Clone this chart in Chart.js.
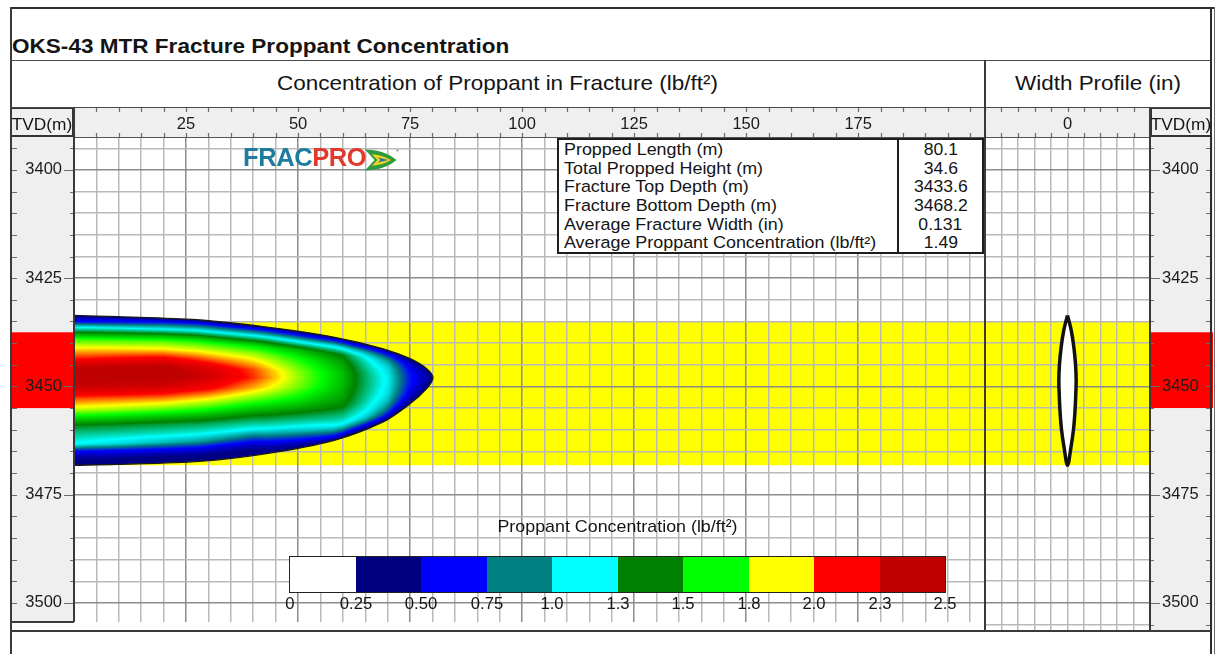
<!DOCTYPE html>
<html lang="en">
<head>
<meta charset="utf-8">
<title>OKS-43 MTR Fracture Proppant Concentration</title>
<script src="https://cdn.jsdelivr.net/npm/chart.js@4/dist/chart.umd.min.js"></script>
<style>
  html, body { margin: 0; padding: 0; background: #fff; }
  body { position: relative; width: 1223px; height: 654px; overflow: hidden;
         font-family: "Liberation Sans", Arial, Helvetica, sans-serif; color: #141414; }
  canvas { position: absolute; }
  .rule { position: absolute; background: #3a3a3a; }
  .txt { position: absolute; white-space: nowrap; line-height: 1; }
  #title { left: 12px; top: 35.6px; font-size: 20.5px; font-weight: bold;
           transform: scaleX(1.1); transform-origin: 0 0; }
  .hdr { top: 72.2px; font-size: 21px; text-align: center;
         transform: scaleX(1.07); transform-origin: 50% 0; }
  .tvd { position: absolute; top: 107px; height: 30px; box-sizing: border-box;
         border: 2px solid #333; background: #f0f0f0; font-size: 16px; line-height: 31px;
         text-align: center; white-space: nowrap; }
  .tvd span { display: inline-block; transform: scaleX(1.08); }
  #logo { left: 243px; top: 145.4px; font-size: 25.5px; font-weight: bold; letter-spacing: -0.4px; }
  #logo .a { color: #1f7c9c; } #logo .b { color: #e0392e; }
  #stats { position: absolute; left: 557px; top: 138px; width: 427px; height: 116px;
           box-sizing: border-box; border: 2px solid #1e1e1e; background: #fff; display: flex; }
  #statLab { width: 340px; box-sizing: border-box; border-right: 2px solid #1e1e1e; padding-left: 5px; }
  #statVal { flex: 1; text-align: center; }
  #stats .row { height: 18.7px; line-height: 18.7px; font-size: 16.3px; white-space: nowrap; }
  #statLab .row span { display: inline-block; transform: scaleX(1.1); transform-origin: 0 50%; }
  #statVal .row span { display: inline-block; transform: scaleX(1.08); transform-origin: 50% 50%; }
  #cbarTitle { left: 290px; width: 655px; top: 517.6px; font-size: 17px; text-align: center;
               transform: scaleX(1.05); transform-origin: 50% 0; }
  #cbar { position: absolute; left: 290px; top: 557px; width: 655px; height: 35px;
          outline: 1.5px solid #222; display: flex; }
  #cbar div { flex: 1; height: 100%; }
  .cbl { top: 595.5px; font-size: 16px; }
</style>
</head>
<body>
<canvas id="mainChart" width="975" height="515" style="left:10px;top:107px"></canvas>
<canvas id="widthChart" width="228" height="524" style="left:985px;top:107px"></canvas>

<div id="title" class="txt">OKS-43 MTR Fracture Proppant Concentration</div>
<div class="txt hdr" style="left:10px;width:975px">Concentration of Proppant in Fracture (lb/ft²)</div>
<div class="txt hdr" style="left:985px;width:226px">Width Profile (in)</div>
<div class="tvd" style="left:10px;width:64px"><span>TVD(m)</span></div>
<div class="tvd" style="left:1150px;width:62px"><span>TVD(m)</span></div>

<div id="logo" class="txt"><span class="a">FRAC</span><span class="b">PRO</span></div>
<svg style="position:absolute;left:365px;top:148px" width="34" height="24" viewBox="0 0 34 24">
  <path d="M0 1.5 C12 1.5 24 5.5 31.5 12 C24 18.5 12 22.5 0 22.5 L9.5 12 Z" fill="#2f9b3e"/>
  <path d="M7 6.5 C14 6.5 21 9 26 12 C21 15 14 17.5 7 17.5 L12.5 12 Z" fill="#f2d21c"/>
  <path d="M13 9.6 L23 12 L13 14.4 L15.5 12 Z" fill="#1f6fb4"/>
  <circle cx="32.5" cy="2.5" r="1.1" fill="#888"/>
</svg>

<div id="stats"><div id="statLab"></div><div id="statVal"></div></div>

<div id="cbarTitle" class="txt">Proppant Concentration (lb/ft²)</div>
<div id="cbar"></div>
<div id="cbarLabels"></div>

<div class="rule" style="left:10px;top:6.5px;width:1205px;height:2px;background:#2e2e2e"></div>
<div class="rule" style="left:9.5px;top:6.5px;width:2px;height:648px"></div>
<div class="rule" style="left:1210px;top:6.5px;width:2px;height:648px;background:#2e2e2e"></div>
<div class="rule" style="left:1213.5px;top:6.5px;width:1.5px;height:648px;background:#6a6a6a"></div>
<div class="rule" style="left:10px;top:59.5px;width:1201px;height:1.5px;background:#4a4a4a"></div>
<div class="rule" style="left:10px;top:106.5px;width:1201px;height:1.5px;background:#4a4a4a"></div>
<div class="rule" style="left:74px;top:136.5px;width:1076px;height:1px;background:#555"></div>
<div class="rule" style="left:984.2px;top:60px;width:1.6px;height:571px"></div>
<div class="rule" style="left:73.2px;top:107px;width:1.6px;height:515px"></div>
<div class="rule" style="left:1149.2px;top:107px;width:1.6px;height:524px"></div>
<div class="rule" style="left:10px;top:621px;width:64px;height:1.5px"></div>
<div class="rule" style="left:10px;top:630px;width:1201px;height:1.6px"></div>

<script>
// ---- axis tick labels ----
const xTickLabels = [25, 50, 75, 100, 125, 150, 175];
const depthTickLabels = [3400, 3425, 3450, 3475, 3500];
const widthTickLabels = [0];

// ---- fracture summary ----
const statLabels = ['Propped Length (m)', 'Total Propped Height (m)', 'Fracture Top Depth (m)',
                    'Fracture Bottom Depth (m)', 'Average Fracture Width (in)',
                    'Average Proppant Concentration (lb/ft²)'];
const statValues = [80.1, 34.6, 3433.6, 3468.2, 0.131, 1.49];
const proppedLength = statValues[0];
const fracTop = statValues[2];
const fracBottom = statValues[3];

// ---- zones (TVD, m) ----
const payZone = [3435.0, 3468.2];       // yellow layer
const perfInterval = [3437.5, 3455.0];  // red interval on the depth tracks

// ---- propped fracture outline (length m, TVD m): upper edge out to the tip, lower edge back ----
const outlineX = [0, 10, 27.4, 43.0, 57.9, 69.0, 75.0, 78.7, proppedLength,
                  78.7, 75.0, 69.0, 57.9, 43.0, 28.0, 9.5, 0];
const outlineDepth = [fracTop, 3433.9, 3434.6, 3436.3, 3438.6, 3441.3, 3443.6, 3445.9, 3448.0,
                      3450.5, 3454.0, 3458.2, 3462.5, 3465.5, 3467.3, 3468.0, fracBottom];

// ---- proppant concentration (lb/ft²) ----
// one column per length station; each value sits at a fraction of the local propped
// height (0 = upper edge of the fracture, 1 = lower edge)
const columnX = [0, 10, 20, 30, 40, 50, 60, 65, 70, 75, 80];
const heightFraction = [0, 0.04, 0.08, 0.12, 0.16, 0.22, 0.28, 0.34, 0.40, 0.48,
                        0.56, 0.62, 0.68, 0.74, 0.80, 0.86, 0.91, 0.96, 1.0];
const concByColumn = [
  [0.38, 0.61, 1.16, 1.45, 1.70, 1.92, 2.10, 2.36, 2.45, 2.35, 2.06, 1.87, 1.60, 1.37, 1.24, 1.14, 0.60, 0.40, 0.38],
  [0.38, 0.70, 1.18, 1.47, 1.71, 1.93, 2.15, 2.40, 2.45, 2.33, 2.03, 1.83, 1.57, 1.35, 1.22, 1.07, 0.60, 0.39, 0.38],
  [0.38, 0.80, 1.20, 1.50, 1.73, 1.94, 2.20, 2.43, 2.45, 2.30, 2.00, 1.78, 1.53, 1.33, 1.20, 1.00, 0.60, 0.38, 0.38],
  [0.38, 0.80, 1.19, 1.47, 1.68, 1.88, 2.08, 2.28, 2.33, 2.18, 1.90, 1.70, 1.49, 1.31, 1.17, 0.92, 0.58, 0.38, 0.38],
  [0.38, 0.80, 1.18, 1.43, 1.63, 1.81, 1.95, 2.08, 2.11, 1.98, 1.77, 1.60, 1.44, 1.29, 1.14, 0.82, 0.55, 0.38, 0.38],
  [0.38, 0.76, 1.12, 1.35, 1.52, 1.64, 1.72, 1.78, 1.80, 1.76, 1.65, 1.55, 1.44, 1.32, 1.20, 1.00, 0.75, 0.50, 0.38],
  [0.38, 0.72, 1.05, 1.24, 1.38, 1.45, 1.49, 1.52, 1.52, 1.51, 1.48, 1.45, 1.41, 1.33, 1.25, 1.16, 0.95, 0.64, 0.38],
  [0.38, 0.65, 0.92, 1.08, 1.17, 1.23, 1.27, 1.30, 1.31, 1.31, 1.29, 1.27, 1.24, 1.20, 1.15, 1.06, 0.90, 0.60, 0.38],
  [0.38, 0.55, 0.72, 0.85, 0.95, 1.03, 1.08, 1.10, 1.12, 1.12, 1.10, 1.08, 1.05, 1.00, 0.92, 0.82, 0.70, 0.50, 0.38],
  [0.38, 0.42, 0.47, 0.52, 0.56, 0.60, 0.63, 0.65, 0.66, 0.66, 0.65, 0.63, 0.60, 0.57, 0.53, 0.48, 0.44, 0.40, 0.38],
  [0.38, 0.38, 0.38, 0.38, 0.38, 0.38, 0.38, 0.38, 0.38, 0.38, 0.38, 0.38, 0.38, 0.38, 0.38, 0.38, 0.38, 0.38, 0.38]
];

// ---- width profile (TVD m, full width in) ----
const widthDepth = [fracTop, 3437.0, 3441.0, 3445.0, 3448.5, 3452.0, 3456.0, 3460.0, 3464.0, fracBottom];
const widthIn = [0, 0.09, 0.155, 0.195, 0.21, 0.20, 0.18, 0.145, 0.085, 0];

// ---- colour scale ----
const legendBounds = [0, 0.25, 0.5, 0.75, 1.0, 1.3, 1.5, 1.8, 2.0, 2.3, 2.5];
const legendTickLabels = ['0', '0.25', '0.50', '0.75', '1.0', '1.3', '1.5', '1.8', '2.0', '2.3', '2.5'];
const legendColors = ['#ffffff', '#000080', '#0000ff', '#008080', '#00ffff',
                      '#008000', '#00ff00', '#ffff00', '#ff0000', '#bf0000'];

// ---------------------------------------------------------------------------
Chart.defaults.font.family = "'Liberation Sans', Arial, Helvetica, sans-serif";
Chart.defaults.color = '#1b1b1b';

const MINOR = '#b9b9b9', MAJOR = '#8c8c8c';

// summary table
(function () {
  const lab = document.getElementById('statLab'), val = document.getElementById('statVal');
  statLabels.forEach((t, i) => {
    const r1 = document.createElement('div'); r1.className = 'row';
    r1.innerHTML = '<span></span>'; r1.firstChild.textContent = t; lab.appendChild(r1);
    const r2 = document.createElement('div'); r2.className = 'row';
    r2.innerHTML = '<span></span>'; r2.firstChild.textContent = String(statValues[i]); val.appendChild(r2);
  });
})();

// colour bar legend
(function () {
  const bar = document.getElementById('cbar');
  legendColors.forEach(c => { const d = document.createElement('div'); d.style.background = c; bar.appendChild(d); });
  const holder = document.getElementById('cbarLabels');
  const x0 = 290, span = 655, n = legendColors.length;
  legendTickLabels.forEach((t, i) => {
    const d = document.createElement('div');
    d.className = 'txt cbl';
    d.textContent = t;
    d.style.left = (x0 + span * i / n) + 'px';
    d.style.transform = 'translateX(-50%) scaleX(1.04)';
    holder.appendChild(d);
  });
})();

function stepTicks(min, max, step) {
  const out = [];
  const n0 = Math.ceil(min / step - 1e-9), n1 = Math.floor(max / step + 1e-9);
  for (let n = n0; n <= n1; n++) out.push({ value: Math.round(n * step * 1e6) / 1e6 });
  return out;
}
const gridColor = labels => c => (c.tick && labels.includes(c.tick.value)) ? MAJOR : MINOR;

// colour ramp through the band centres
const heatStops = legendColors.map((hex, i) => ({
  v: (legendBounds[i] + legendBounds[i + 1]) / 2,
  rgb: [1, 3, 5].map(k => parseInt(hex.substr(k, 2), 16))
}));
function rampColor(v) {
  if (v <= heatStops[0].v) return heatStops[0].rgb;
  for (let i = 1; i < heatStops.length; i++) {
    if (v <= heatStops[i].v) {
      const a = heatStops[i - 1], b = heatStops[i], t = (v - a.v) / (b.v - a.v);
      return [0, 1, 2].map(k => a.rgb[k] + (b.rgb[k] - a.rgb[k]) * t);
    }
  }
  return heatStops[heatStops.length - 1].rgb;
}
function locate(arr, v) {
  const n = arr.length;
  if (v <= arr[0]) return [0, 0];
  if (v >= arr[n - 1]) return [n - 2, 1];
  let i = 0;
  while (arr[i + 1] < v) i++;
  return [i, (v - arr[i]) / (arr[i + 1] - arr[i])];
}
// upper and lower edges of the outline, each ordered by length
const tipIndex = outlineX.indexOf(proppedLength);
const upperX = outlineX.slice(0, tipIndex + 1), upperD = outlineDepth.slice(0, tipIndex + 1);
const lowerX = outlineX.slice(tipIndex).reverse(), lowerD = outlineDepth.slice(tipIndex).reverse();
function edgeAt(xsArr, dsArr, xv) {
  const [i, t] = locate(xsArr, xv);
  return dsArr[i] + (dsArr[i + 1] - dsArr[i]) * t;
}
function concAt(xv, dv) {
  const top = edgeAt(upperX, upperD, xv), bot = edgeAt(lowerX, lowerD, xv);
  const f = bot - top > 1e-6 ? Math.min(1, Math.max(0, (dv - top) / (bot - top))) : 0.5;
  const [ci, ct] = locate(columnX, xv);
  const [ri, rt] = locate(heightFraction, f);
  const A = concByColumn[ci], B = concByColumn[ci + 1];
  const a = A[ri] * (1 - rt) + A[ri + 1] * rt;
  const b = B[ri] * (1 - rt) + B[ri + 1] * rt;
  return a * (1 - ct) + b * ct;
}

// background panels, layer band and perforated interval, plus the edge tick marks
function zonesPlugin(axisSide) {
  return {
    id: 'zones',
    beforeDraw(chart) {
      const { ctx, chartArea: a } = chart;
      const xs = chart.scales.x, ys = chart.scales.y;
      ctx.save();
      ctx.fillStyle = '#efefef';
      ctx.fillRect(ys.left, ys.top, ys.width, ys.height);
      ctx.fillRect(xs.left, xs.top, xs.width, xs.height);
      const pt = ys.getPixelForValue(payZone[0]), pb = ys.getPixelForValue(payZone[1]);
      ctx.fillStyle = '#ffff00';
      ctx.fillRect(a.left, pt, a.right - a.left, pb - pt);
      const rt = ys.getPixelForValue(perfInterval[0]), rb = ys.getPixelForValue(perfInterval[1]);
      ctx.fillStyle = '#ff0000';
      ctx.fillRect(ys.left, rt, ys.width, rb - rt);
      ctx.restore();
    },
    afterDraw(chart) {
      const { ctx } = chart;
      const xs = chart.scales.x, ys = chart.scales.y;
      ctx.save();
      ctx.strokeStyle = '#6b6b6b';
      ctx.lineWidth = 1.2;
      ctx.beginPath();
      xs.ticks.forEach(t => {
        const px = Math.round(xs.getPixelForValue(t.value)) + 0.5;
        ctx.moveTo(px, xs.top + 1); ctx.lineTo(px, xs.top + 5);
        ctx.moveTo(px, xs.bottom - 4); ctx.lineTo(px, xs.bottom);
      });
      const left = axisSide === 'left';
      const outer = left ? ys.left : ys.right, inner = left ? ys.right : ys.left, dir = left ? 1 : -1;
      ys.ticks.forEach(t => {
        const py = Math.round(ys.getPixelForValue(t.value)) + 0.5;
        const major = depthTickLabels.includes(t.value);
        ctx.moveTo(outer + dir * 2, py); ctx.lineTo(outer + dir * 7, py);
        ctx.moveTo(inner - dir * (major ? 10 : 4), py); ctx.lineTo(inner, py);
      });
      ctx.stroke();
      ctx.restore();
    }
  };
}

function traceOutline(chart, ctx) {
  const meta = chart.getDatasetMeta(0);
  const line = meta.dataset;
  let ok = false;
  ctx.beginPath();
  try {
    if (line && typeof line.path === 'function') {
      if (typeof line.updateControlPoints === 'function') line.updateControlPoints(chart.chartArea);
      line.path(ctx);
      ok = true;
    }
  } catch (e) { ok = false; }
  if (!ok) {
    ctx.beginPath();
    meta.data.forEach((p, i) => (i ? ctx.lineTo(p.x, p.y) : ctx.moveTo(p.x, p.y)));
  }
  ctx.closePath();
}

// concentration surface, clipped to the propped outline
const fractureHeat = {
  id: 'fractureHeat',
  beforeDatasetsDraw(chart) {
    const { ctx } = chart;
    const xs = chart.scales.x, ys = chart.scales.y;
    const left = Math.floor(xs.getPixelForValue(0));
    const right = Math.ceil(xs.getPixelForValue(Math.max(...outlineX))) + 2;
    const top = Math.floor(ys.getPixelForValue(Math.min(...outlineDepth))) - 2;
    const bottom = Math.ceil(ys.getPixelForValue(Math.max(...outlineDepth))) + 2;
    const w = right - left, h = bottom - top;
    const off = document.createElement('canvas');
    off.width = w; off.height = h;
    const octx = off.getContext('2d');
    const img = octx.createImageData(w, h);
    for (let j = 0; j < h; j++) {
      const d = ys.getValueForPixel(top + j + 0.5);
      for (let i = 0; i < w; i++) {
        const xv = xs.getValueForPixel(left + i + 0.5);
        const rgb = rampColor(concAt(xv, d));
        const k = (j * w + i) * 4;
        img.data[k] = rgb[0]; img.data[k + 1] = rgb[1]; img.data[k + 2] = rgb[2]; img.data[k + 3] = 255;
      }
    }
    octx.putImageData(img, 0, 0);
    ctx.save();
    traceOutline(chart, ctx);
    ctx.clip();
    ctx.drawImage(off, left, top);
    ctx.restore();
  }
};

const tickFont = { size: 16.5 };

// ---- main track: concentration in the fracture ----
new Chart(document.getElementById('mainChart'), {
  type: 'scatter',
  data: {
    datasets: [{
      data: outlineX.map((x, i) => ({ x, y: outlineDepth[i] })),
      showLine: true, fill: false, tension: 0.3,
      borderColor: '#1a1a1a', borderWidth: 1.3, pointRadius: 0
    }]
  },
  options: {
    responsive: false, animation: false, events: [],
    layout: { padding: 0 },
    plugins: { legend: { display: false }, tooltip: { enabled: false } },
    scales: {
      x: {
        type: 'linear', position: 'top', min: 0, max: 203.3,
        afterBuildTicks: s => { s.ticks = stepTicks(s.min, s.max, 5); },
        afterFit: s => { s.height = 30; s.paddingLeft = 0; s.paddingRight = 0; },
        grid: { color: gridColor(xTickLabels), lineWidth: 1.5, drawTicks: false },
        border: { display: false },
        ticks: { autoSkip: false, maxRotation: 0, padding: 3, font: tickFont,
                 callback: v => (xTickLabels.includes(v) ? String(v) : '') }
      },
      y: {
        type: 'linear', position: 'left', reverse: true, min: 3392.4, max: 3504.4,
        afterBuildTicks: s => { s.ticks = stepTicks(s.min, s.max, 5); },
        afterFit: s => { s.width = 64; s.paddingTop = 0; s.paddingBottom = 0; },
        grid: { color: gridColor(depthTickLabels), lineWidth: 1.5, drawTicks: false },
        border: { display: false },
        ticks: { autoSkip: false, padding: 12, font: tickFont,
                 callback: v => (depthTickLabels.includes(v) ? String(v) : '') }
      }
    }
  },
  plugins: [zonesPlugin('left'), fractureHeat]
});

// ---- width profile track: closed lens, right edge down then left edge up ----
const lensPoints = widthDepth.map((d, i) => ({ x: widthIn[i] / 2, y: d }))
  .concat(widthDepth.slice(1, -1).map((d, i) => ({ x: -widthIn[i + 1] / 2, y: d })).reverse());
lensPoints.push(lensPoints[0]);

new Chart(document.getElementById('widthChart'), {
  type: 'scatter',
  data: {
    datasets: [{
      data: lensPoints,
      showLine: true, fill: 'shape', backgroundColor: '#ffffff', tension: 0.35,
      borderColor: '#111111', borderWidth: 3.5, pointRadius: 0
    }]
  },
  options: {
    responsive: false, animation: false, events: [],
    layout: { padding: 0 },
    plugins: { legend: { display: false }, tooltip: { enabled: false } },
    scales: {
      x: {
        type: 'linear', position: 'top', min: -1, max: 1,
        afterBuildTicks: s => { s.ticks = stepTicks(s.min, s.max, 0.2); },
        afterFit: s => { s.height = 30; s.paddingLeft = 0; s.paddingRight = 0; },
        grid: { color: MINOR, lineWidth: 1.5, drawTicks: false },
        border: { display: false },
        ticks: { autoSkip: false, maxRotation: 0, padding: 3, font: tickFont,
                 callback: v => (widthTickLabels.includes(v) ? String(v) : '') }
      },
      y: {
        type: 'linear', position: 'right', reverse: true, min: 3392.4, max: 3506.5,
        afterBuildTicks: s => { s.ticks = stepTicks(s.min, s.max, 5); },
        afterFit: s => { s.width = 63; s.paddingTop = 0; s.paddingBottom = 0; },
        grid: { color: gridColor(depthTickLabels), lineWidth: 1.5, drawTicks: false },
        border: { display: false },
        ticks: { autoSkip: false, padding: 12, font: tickFont,
                 callback: v => (depthTickLabels.includes(v) ? String(v) : '') }
      }
    }
  },
  plugins: [zonesPlugin('right')]
});
</script>
</body>
</html>
